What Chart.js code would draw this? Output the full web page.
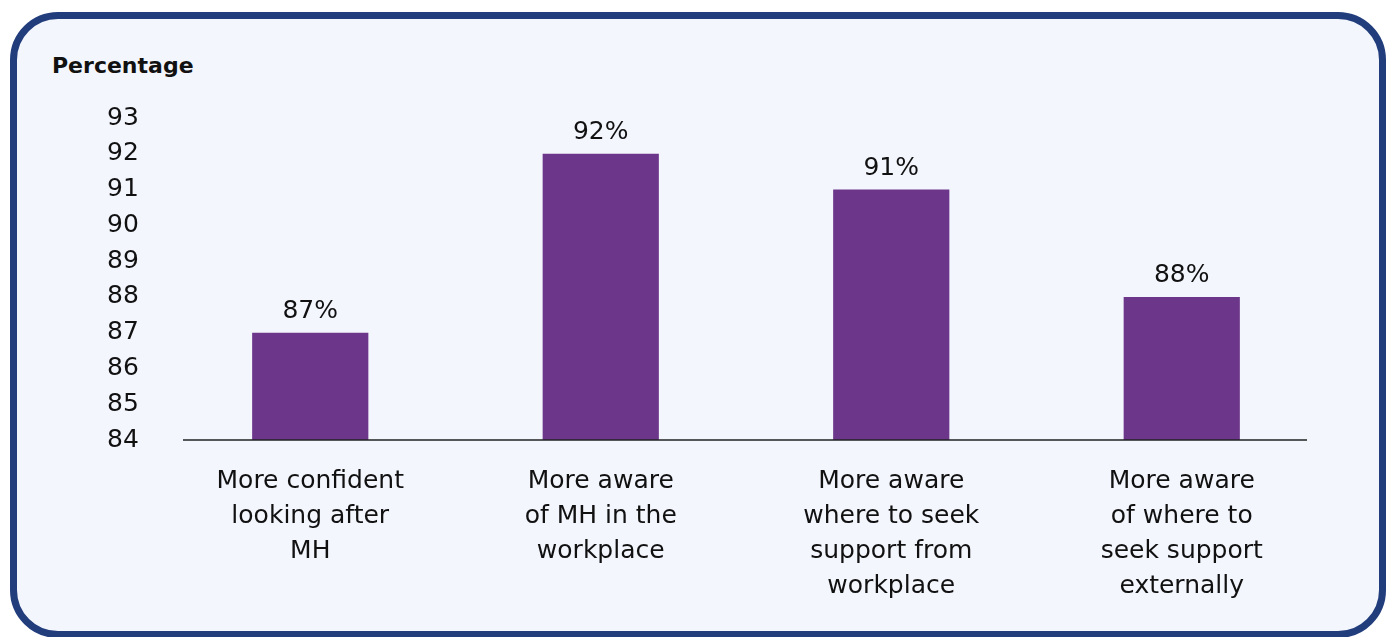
<!DOCTYPE html>
<html>
<head>
<meta charset="utf-8">
<script src="https://cdn.jsdelivr.net/npm/chart.js"></script>
<style>
  html, body { margin: 0; padding: 0; background: #ffffff; }
  #wrap { position: relative; width: 1389px; height: 637px; overflow: hidden; }
  #frame {
    position: absolute; left: 10px; top: 12px; width: 1362px; height: 612px;
    border: 7px solid #223d7c; border-radius: 48px; background: #f3f6fd;
  }
  #heading {
    position: absolute; left: 52px; top: 53px;
    font: bold 22px "DejaVu Sans", sans-serif; color: #111;
  }
  #chart { position: absolute; left: 0; top: 0; }
</style>
</head>
<body>
<div id="wrap">
  <div id="frame"></div>
  <div id="heading">Percentage</div>
  <canvas id="chart" width="1389" height="637"></canvas>
</div>
<script>
// --- Data ---
const categories = [
  ["More confident", "looking after", "MH"],
  ["More aware", "of MH in the", "workplace"],
  ["More aware", "where to seek", "support from", "workplace"],
  ["More aware", "of where to", "seek support", "externally"]
];
const percentages = [87, 92, 91, 88];
const yMin = 84;
const yMax = 93;

const fontFamily = "'DejaVu Sans', sans-serif";
const textColor = "#111111";

// Value labels above bars
const valueLabels = {
  id: "valueLabels",
  afterDatasetsDraw(chart) {
    const ctx = chart.ctx;
    const meta = chart.getDatasetMeta(0);
    ctx.save();
    ctx.font = "25px " + fontFamily;
    ctx.fillStyle = textColor;
    ctx.textAlign = "center";
    ctx.textBaseline = "bottom";
    meta.data.forEach((bar, i) => {
      ctx.fillText(percentages[i] + "%", bar.x, bar.y - 9);
    });
    ctx.restore();
  }
};

// Baseline, a bit inset from the chart area
const baseLine = {
  id: "baseLine",
  afterDatasetsDraw(chart) {
    const { ctx, chartArea } = chart;
    ctx.save();
    ctx.strokeStyle = "#222222";
    ctx.lineWidth = 1.5;
    ctx.beginPath();
    ctx.moveTo(chartArea.left + 18, chartArea.bottom);
    ctx.lineTo(chartArea.right - 20, chartArea.bottom);
    ctx.stroke();
    ctx.restore();
  }
};

new Chart(document.getElementById("chart"), {
  type: "bar",
  data: {
    labels: categories,
    datasets: [{
      data: percentages,
      backgroundColor: "#6c368a",
      borderWidth: 0,
      categoryPercentage: 1,
      barPercentage: 0.4
    }]
  },
  options: {
    responsive: false,
    animation: false,
    layout: { padding: { left: 107, right: 62, top: 118, bottom: 20 } },
    plugins: {
      legend: { display: false },
      tooltip: { enabled: false }
    },
    scales: {
      x: {
        grid: { display: false, drawTicks: false },
        border: { display: false },
        ticks: {
          color: textColor,
          font: { family: fontFamily, size: 25, lineHeight: 1.4 },
          padding: 24,
          maxRotation: 0,
          autoSkip: false
        },
        afterFit(scale) { scale.height = 637 - 440 - 20; }
      },
      y: {
        min: yMin,
        max: yMax,
        grid: { display: false, drawTicks: false },
        border: { display: false },
        ticks: {
          stepSize: 1,
          color: textColor,
          font: { family: fontFamily, size: 25 },
          crossAlign: "far",
          padding: 0
        },
        afterFit(scale) { scale.width = 58; }
      }
    }
  },
  plugins: [valueLabels, baseLine]
});
</script>
</body>
</html>
